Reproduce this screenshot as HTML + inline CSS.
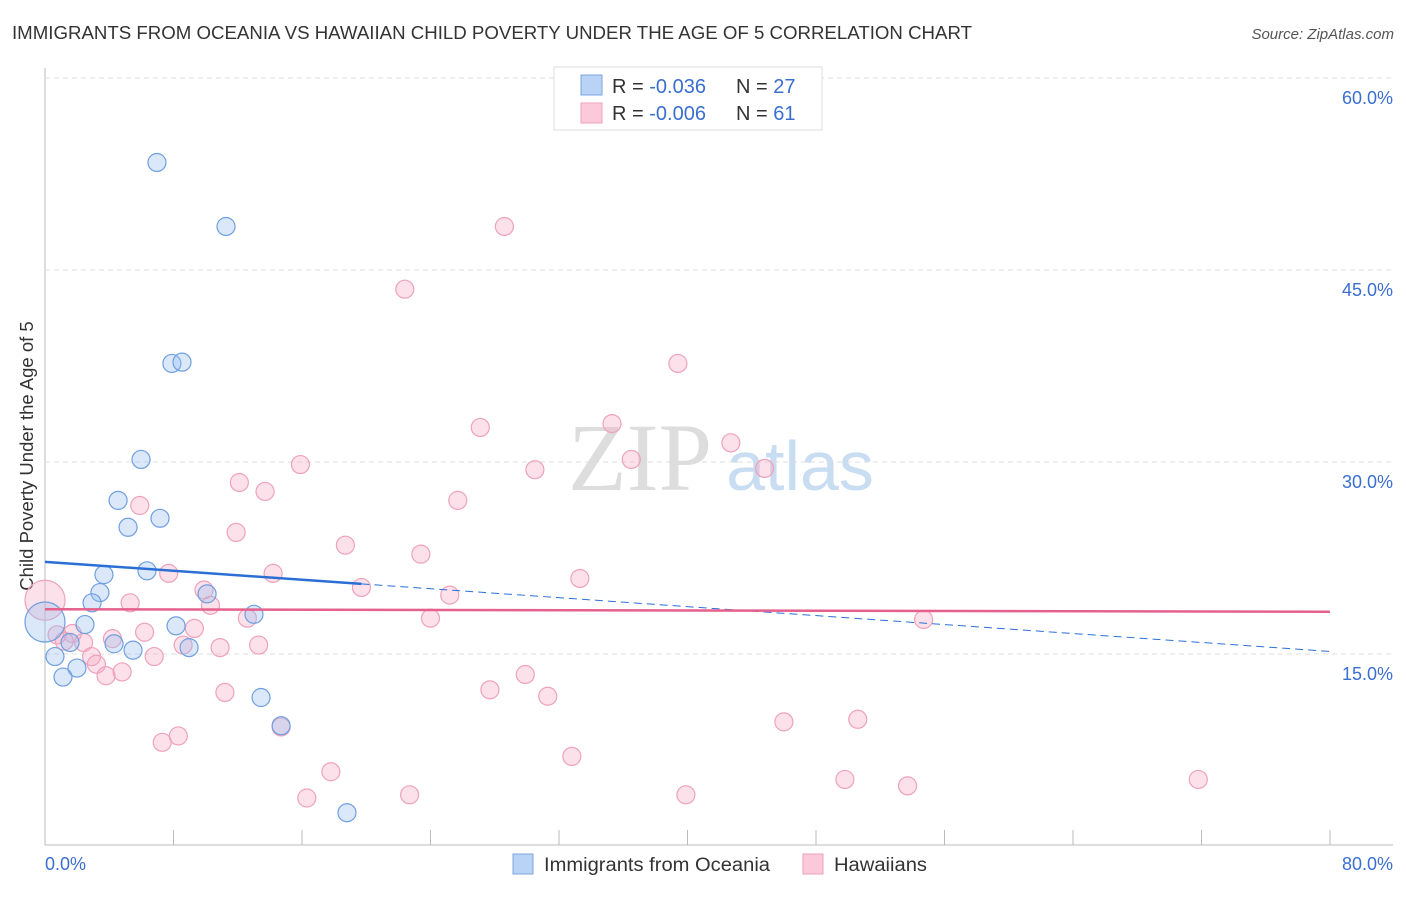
<!DOCTYPE html>
<html><head><meta charset="utf-8"><style>
body{margin:0;background:#fff;font-family:"Liberation Sans",sans-serif}
</style></head><body>
<svg id="c" width="1406" height="892" xmlns="http://www.w3.org/2000/svg" style="font-family:'Liberation Sans',sans-serif">
<text x="12" y="39" font-size="18" fill="#333" textLength="960" lengthAdjust="spacingAndGlyphs">IMMIGRANTS FROM OCEANIA VS HAWAIIAN CHILD POVERTY UNDER THE AGE OF 5 CORRELATION CHART</text>
<text x="1394" y="39" font-size="15" fill="#555" text-anchor="end" font-style="italic">Source: ZipAtlas.com</text>
<text transform="translate(33,456) rotate(-90)" font-size="18.5" fill="#333" text-anchor="middle">Child Poverty Under the Age of 5</text>
<text x="640" y="490" font-size="96" fill="#ddd" font-family="Liberation Serif,serif" text-anchor="middle">ZIP</text>
<text x="800" y="490" font-size="70" fill="#c8dcf2" text-anchor="middle">atlas</text>
<g id="grid"></g><g id="pts"></g><g id="lines"></g>
<g>
<rect x="554" y="67" width="268" height="63" fill="#fff" stroke="#ddd"/>
<rect x="581" y="75" width="21" height="20" fill="#b8d3f5" stroke="#7aa6e0"/>
<rect x="581" y="103" width="21" height="20" fill="#fbc9d9" stroke="#eea2bb"/>
<text x="612" y="93" font-size="20" fill="#333">R = <tspan fill="#3a6fd0">-0.036</tspan></text>
<text x="736" y="93" font-size="20" fill="#333">N = <tspan fill="#3a6fd0">27</tspan></text>
<text x="612" y="120" font-size="20" fill="#333">R = <tspan fill="#3a6fd0">-0.006</tspan></text>
<text x="736" y="120" font-size="20" fill="#333">N = <tspan fill="#3a6fd0"> 61</tspan></text>
</g>
<g>
<rect x="513" y="854" width="20" height="20" fill="#b8d3f5" stroke="#7aa6e0"/>
<text x="544" y="871" font-size="19" fill="#333" textLength="226" lengthAdjust="spacingAndGlyphs">Immigrants from Oceania</text>
<rect x="803" y="854" width="20" height="20" fill="#fbc9d9" stroke="#eea2bb"/>
<text x="834" y="871" font-size="19" fill="#333" textLength="93" lengthAdjust="spacingAndGlyphs">Hawaiians</text>
</g>
</svg>
<script>
const yTicks=[15,30,45,60];
const xTickLabels=["0.0%","80.0%"];
const blueX=[6.97,11.27,7.9,8.53,5.98,4.55,5.17,7.16,3.67,6.35,3.42,2.93,10.09,13.01,2.49,8.16,4.3,1.56,5.48,8.97,0.62,1.99,1.12,13.45,14.7,18.8,0];
const blueY=[53.4,48.4,37.7,37.8,30.2,27.0,24.9,25.6,21.2,21.5,19.8,19.0,19.7,18.1,17.3,17.2,15.8,15.9,15.3,15.5,14.8,13.9,13.2,11.6,9.4,2.6,17.5];
const pinkX=[28.6,22.4,39.4,35.3,27.1,42.7,36.5,44.8,15.9,30.5,12.1,13.7,25.7,5.9,11.9,18.7,23.4,33.3,7.7,14.2,19.7,25.2,9.9,10.3,5.3,12.6,24.0,54.7,9.3,6.2,4.2,1.7,0.75,2.4,8.6,10.9,13.3,6.8,2.9,3.2,3.8,4.8,29.9,27.7,31.3,11.2,14.7,46.0,50.6,8.3,7.3,32.8,17.8,49.8,53.7,71.8,16.3,22.7,39.9,0,1.2];
const pinkY=[48.4,43.5,37.7,33.0,32.7,31.5,30.2,29.5,29.8,29.4,28.4,27.7,27.0,26.6,24.5,23.5,22.8,20.9,21.3,21.3,20.2,19.6,20.0,18.8,19.0,17.8,17.8,17.7,17.0,16.7,16.2,16.6,16.5,15.9,15.7,15.5,15.7,14.8,14.8,14.2,13.3,13.6,13.4,12.2,11.7,12.0,9.3,9.7,9.9,8.6,8.1,7.0,5.8,5.2,4.7,5.2,3.75,4.0,4.0,19.2,16.0];
const blueTrend=[22.2,15.2];
const pinkTrend=[18.5,18.3];
const NS="http://www.w3.org/2000/svg";
const X=v=>45+v*1285/80, Y=v=>846-v*12.8;
function mk(p,t,a){const e=document.createElementNS(NS,t);for(const k in a)e.setAttribute(k,a[k]);p.appendChild(e);return e;}
const g=document.getElementById('grid');
const ax=mk(g,'line',{x1:45,y1:68,x2:45,y2:845,stroke:'#bbb'});


const bx=mk(g,'line',{x1:45,y1:845,x2:1393,y2:845,stroke:'#bbb'});


yTicks.forEach(t=>{
 const l=mk(g,'line',{x1:45,x2:1393,y1:Y(t),y2:Y(t),stroke:'#ddd','stroke-dasharray':'5,4'});
 
 
 const tx=mk(g,'text',{x:1393,y:Y(t)+26,'font-size':18,fill:'#3a6fd0','text-anchor':'end'});
 tx.textContent=t.toFixed(1)+'%';
 
 
});
for(let i=0;i<=10;i++){
 const t=mk(g,'line',{x1:X(i*8),x2:X(i*8),y1:830,y2:845,stroke:'#bbb'});
 
 
}
[[0,'start',45],[80,'end',1393]].forEach((d,i)=>{
 const tx=mk(g,'text',{x:d[2],y:870,'font-size':18,fill:'#3a6fd0','text-anchor':d[1]});
 tx.textContent=xTickLabels[i];
 
 
});
const p=document.getElementById('pts');
pinkX.forEach((v,i)=>{
 const big=(v===0);
 const c=mk(p,'circle',{cx:X(v),cy:Y(pinkY[i]),r:big?20:9,fill:'rgba(246,170,196,0.35)',stroke:'#eea2bb','stroke-width':1.2});
 
 
});
blueX.forEach((v,i)=>{
 const big=(v===0);
 const c=mk(p,'circle',{cx:X(v),cy:Y(blueY[i]),r:big?20:9,fill:'rgba(150,190,240,0.35)',stroke:'#6f9fe0','stroke-width':1.2});
 
 
});
const L=document.getElementById('lines');
const bAt=x=>blueTrend[0]+(blueTrend[1]-blueTrend[0])*x/80;
const b1=mk(L,'line',{x1:X(0),y1:Y(bAt(0)),x2:X(19.7),y2:Y(bAt(19.7)),stroke:'#2b6fd6','stroke-width':2.5});


const b2=mk(L,'line',{x1:X(19.7),y1:Y(bAt(19.7)),x2:X(80),y2:Y(bAt(80)),stroke:'#2b6fd6','stroke-width':1,'stroke-dasharray':'8,5'});


const pl=mk(L,'line',{x1:X(0),y1:Y(pinkTrend[0]),x2:X(80),y2:Y(pinkTrend[1]),stroke:'#e5608c','stroke-width':2.5});


</script>
</body></html>
